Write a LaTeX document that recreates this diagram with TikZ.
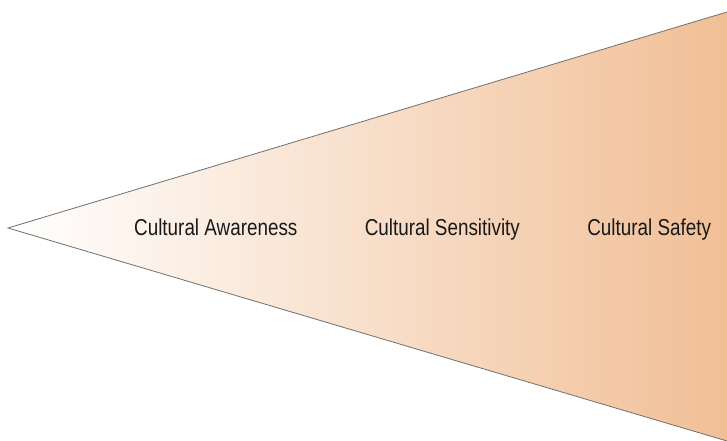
\documentclass[tikz,border=0pt]{standalone}
\usepackage{fontspec}
\newfontfamily\labelfont{Liberation Sans}[FakeStretch=0.82]
\usepackage{tikz}
\usetikzlibrary{positioning}
\definecolor{wedgeend}{RGB}{241,191,150}
\definecolor{wedgeline}{RGB}{112,112,112}
\tikzset{
  stage/.style={inner sep=0pt,text=black!90,font=\labelfont\fontsize{23}{27}\selectfont},
  wedge/.style={left color=white,right color=wedgeend,shading angle=90},
}

\begin{document}
\begin{tikzpicture}[x=1pt,y=1pt,node distance=67pt]
  \useasboundingbox (0,0) rectangle (727,441);
  \coordinate (tip) at (8,213);
  \coordinate (topend) at (727,429);
  \coordinate (botend) at (727,0);
  \shade[left color=white,right color=wedgeend] (tip) -- (topend) -- (botend) -- cycle;
  \draw[wedgeline,line width=0.8pt] (topend) -- (tip) -- (botend);
  \node(aware)[stage,anchor=base west] at (134,205) {Cultural Awareness};
  \node(sensitive)[stage,base right=of aware] {Cultural Sensitivity};
  \node(safe)[stage,base right=of sensitive] {Cultural Safety};
\end{tikzpicture}
\end{document}
